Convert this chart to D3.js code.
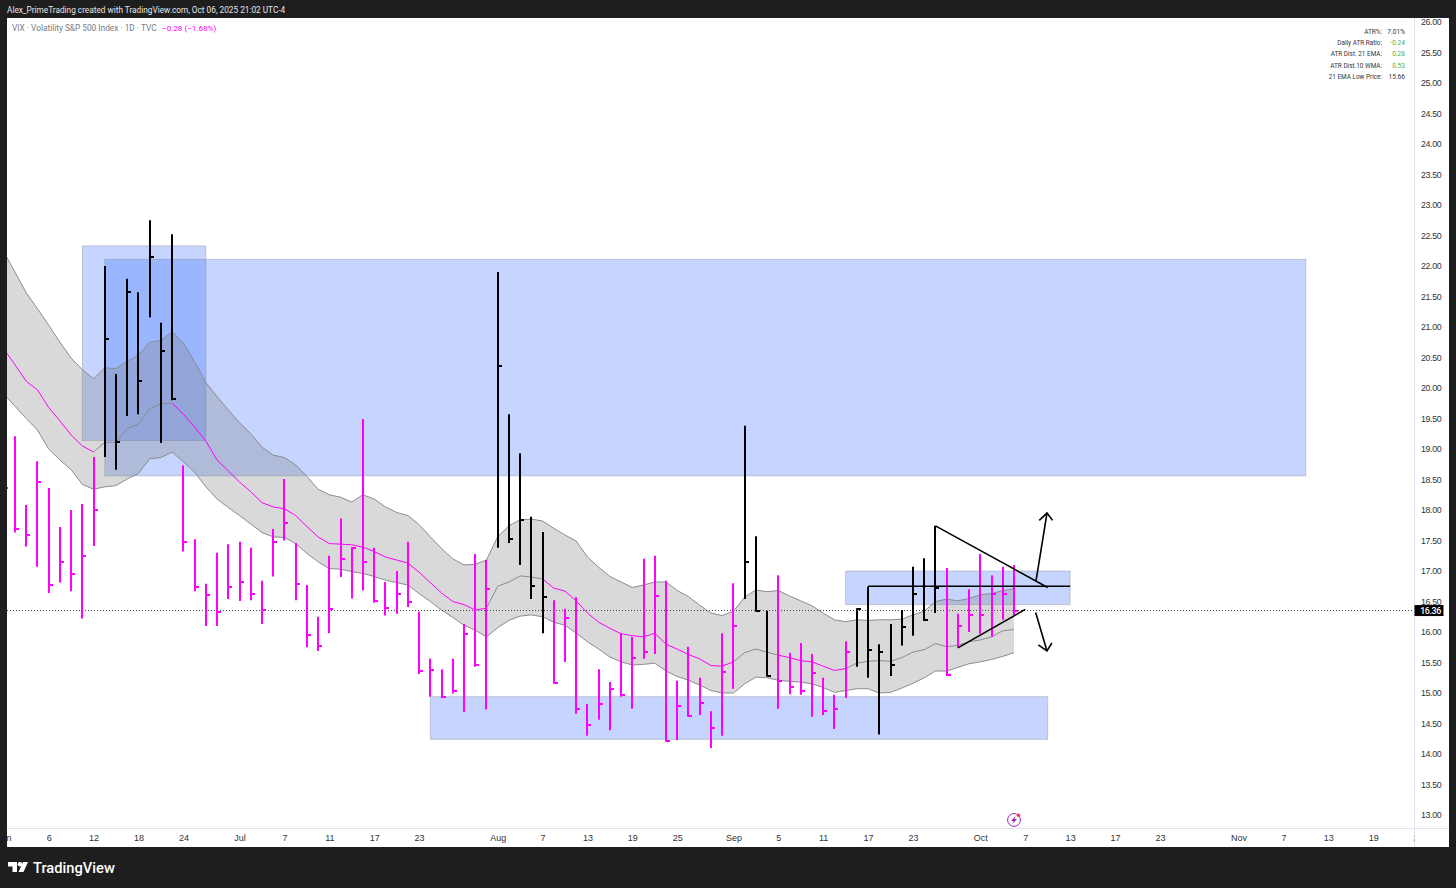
<!DOCTYPE html>
<html>
<head>
<meta charset="utf-8">
<script src="https://cdn.jsdelivr.net/npm/d3@7"></script>
<style>
  body { margin: 0; background: #1e1e1e; }
  svg { display: block; font-family: Roboto, "Liberation Sans", sans-serif; }
</style>
</head>
<body>
<div id="chart"></div>
<script>
// VIX daily bars, first one sits mostly off the left edge
const highs = [18.49,19.21,18.08,18.80,18.36,17.72,18.00,18.10,18.87,22.00,20.23,21.79,21.57,22.75,21.07,22.52,18.73,17.52,16.79,17.30,17.44,17.48,17.38,16.84,17.69,18.51,17.46,16.77,16.25,17.25,17.86,17.39,19.49,17.38,16.82,17.00,17.48,16.33,15.56,15.39,15.56,16.13,17.28,17.18,21.90,19.57,18.93,17.89,17.64,16.52,16.38,16.57,14.82,15.39,15.18,15.97,15.92,17.20,17.25,16.84,15.20,15.76,15.25,14.70,15.98,16.80,19.38,17.57,16.35,16.93,15.66,15.82,15.64,15.25,14.97,15.85,16.39,16.74,15.80,16.13,16.36,17.07,17.21,17.74,17.05,16.30,16.70,17.28,16.93,17.07,17.10];
const lows = [18.16,17.63,17.40,17.07,16.64,16.81,16.67,16.22,17.41,18.87,18.66,19.54,19.57,21.16,19.10,19.80,17.32,16.67,16.10,16.10,16.54,16.51,16.52,16.13,16.91,17.50,16.52,15.75,15.69,15.98,16.90,16.55,16.68,16.48,16.27,16.30,16.41,15.31,14.94,14.92,14.99,14.69,15.43,14.73,17.38,17.46,17.10,16.54,15.98,15.15,15.51,14.66,14.30,14.56,14.39,14.94,14.74,15.56,15.64,14.20,14.23,14.61,14.64,14.10,14.30,15.07,16.54,16.33,15.27,14.74,14.98,14.97,14.61,14.64,14.41,14.92,15.43,15.25,14.32,15.28,15.78,15.94,16.18,16.31,15.28,15.74,16.00,15.97,15.92,16.20,16.28];
const closes = [18.36,17.69,17.59,18.46,16.77,17.14,16.95,17.25,18.00,20.80,19.11,21.57,20.11,22.15,20.61,19.82,17.48,16.74,16.60,16.32,16.73,16.82,16.62,16.36,17.48,17.79,16.79,15.95,15.77,16.38,17.20,17.38,17.14,16.51,16.40,16.63,16.49,15.36,15.38,14.93,15.03,15.97,15.46,16.71,20.36,17.52,17.84,16.75,16.58,15.16,16.23,14.73,14.48,14.82,15.07,14.97,15.57,15.67,16.59,14.21,14.79,14.62,14.84,14.43,15.34,16.10,17.15,16.34,15.28,15.19,15.10,15.03,15.33,14.70,14.74,15.67,16.38,15.70,15.68,15.46,16.09,16.62,16.19,16.72,15.30,16.10,16.28,16.28,16.62,16.63,16.35];
// position ranges of the black (up) bars, the rest are magenta
const blackRuns = [[9,15],[44,48],[66,68],[76,83]];

// 21 EMA high / close / low channel
const emaHigh = [22.23,21.90,21.56,21.30,21.03,20.75,20.49,20.30,20.15,20.33,20.32,20.44,20.54,20.75,20.78,20.92,20.74,20.43,20.09,19.86,19.64,19.43,19.25,19.03,18.90,18.86,18.74,18.55,18.34,18.25,18.21,18.13,18.25,18.18,18.05,17.96,17.91,17.76,17.56,17.37,17.20,17.10,17.11,17.18,17.56,17.74,17.84,17.85,17.82,17.70,17.59,17.49,17.23,17.06,16.91,16.82,16.73,16.77,16.82,16.82,16.68,16.58,16.44,16.31,16.27,16.34,16.57,16.69,16.66,16.68,16.59,16.51,16.43,16.31,16.20,16.17,16.20,16.19,16.20,16.20,16.21,16.28,16.34,16.50,16.54,16.51,16.55,16.61,16.63,16.68,16.71];
const emaMid = [20.64,20.38,20.11,19.97,19.68,19.46,19.23,19.05,18.95,19.11,19.11,19.34,19.41,19.66,19.74,19.75,19.57,19.36,19.13,18.82,18.64,18.46,18.30,18.12,18.05,18.02,17.91,17.73,17.56,17.45,17.44,17.43,17.39,17.32,17.23,17.18,17.13,16.98,16.81,16.64,16.50,16.45,16.36,16.39,16.75,16.82,16.92,16.90,16.87,16.72,16.67,16.51,16.31,16.16,16.06,15.97,15.94,15.92,15.98,15.80,15.72,15.63,15.56,15.45,15.44,15.51,15.66,15.72,15.67,15.62,15.58,15.53,15.51,15.44,15.37,15.40,15.49,15.52,15.53,15.52,15.58,15.67,15.71,15.81,15.76,15.78,15.84,15.87,15.92,16.02,16.04];
const emaLow = [19.90,19.70,19.50,19.31,19.00,18.82,18.66,18.42,18.34,18.38,18.40,18.51,18.60,18.84,18.86,18.95,18.79,18.62,18.38,18.18,18.04,17.91,17.77,17.63,17.56,17.55,17.45,17.29,17.15,17.04,17.03,16.99,16.96,16.91,16.85,16.81,16.77,16.63,16.50,16.36,16.24,16.11,16.03,15.92,16.07,16.19,16.26,16.28,16.25,16.16,16.11,15.98,15.84,15.72,15.59,15.51,15.46,15.47,15.49,15.36,15.27,15.21,15.13,15.04,15.00,15.00,15.15,15.26,15.25,15.21,15.19,15.18,15.15,15.09,15.01,15.04,15.07,15.07,15.00,15.01,15.08,15.16,15.25,15.36,15.36,15.42,15.48,15.51,15.55,15.60,15.66];
// stretches where the middle line is grey instead of magenta
const midGrayRuns = [[9,15],[44,48],[66,69],[76,90]];

// drawn zones: [from, to, top price, bottom price]
const zones = [
  [7, 18, 22.33, 19.14],
  [9, 116, 22.11, 18.56],
  [38, 93, 14.94, 14.24],
  [75, 95, 17.00, 16.45]
];

// hand drawn lines, each a list of [position, price]
const drawnLines = [
  [[77, 16.75], [95, 16.75]],
  [[83, 17.74], [93, 16.73]],
  [[85, 15.74], [91, 16.37]],
  [[91.96, 16.84], [92.94, 17.95]],
  [[92.25, 17.83], [92.94, 17.95], [93.44, 17.83]],
  [[91.93, 16.32], [92.94, 15.69]],
  [[92.16, 15.79], [92.94, 15.69], [93.38, 15.82]]
];

const lastPrice = 16.36;
const priceTicks = d3.range(13, 26.5, 0.5);
const timeTickPos = [0,4,8,12,16,21,25,29,33,37,44,48,52,56,60,65,69,73,77,81,87,91,95,99,103,110,114,118,122,126];
const timeTickLabels = ['Jun','6','12','18','24','Jul','7','11','17','23','Aug','7','13','19','25','Sep','5','11','17','23','Oct','7','13','17','23','Nov','7','13','19','25'];
const boldLabels = ['Jul','Aug','Sep','Oct','Nov'];

const statLabels = ['ATR%:','Daily ATR Ratio:','ATR Dist. 21 EMA:','ATR Dist.10 WMA:','21 EMA Low Price:'];
const statValues = ['7.01%','-0.24','0.28','0.53','15.66'];
const statColors = ['#333','#4caf50','#4caf50','#4caf50','#333'];

const pink = '#ff00ff';
const lineGray = '#8c8c8c';
const width = 1456;
const height = 888;
const plot = { left: 7, right: 1414.5, top: 18, bottom: 828.5, panelRight: 1449, panelBottom: 847 };

const x = d3.scaleLinear().domain([0, 90]).range([3.8, 1014]);
const y = d3.scaleLinear().domain([13, 26]).range([815, 22]);

const svg = d3.select('#chart').append('svg')
  .attr('width', width)
  .attr('height', height);

svg.append('rect')
  .attr('x', plot.left).attr('y', plot.top)
  .attr('width', plot.panelRight - plot.left)
  .attr('height', plot.panelBottom - plot.top)
  .attr('fill', '#fff');

svg.append('clipPath').attr('id', 'plot-clip')
  .append('rect')
  .attr('x', plot.left).attr('y', plot.top)
  .attr('width', plot.right - plot.left)
  .attr('height', plot.panelBottom - plot.top);

const g = svg.append('g').attr('clip-path', 'url(#plot-clip)');

// zones
g.selectAll('rect.zone').data(zones).join('rect')
  .attr('class', 'zone')
  .attr('x', d => x(d[0]))
  .attr('y', d => y(d[2]))
  .attr('width', d => x(d[1]) - x(d[0]))
  .attr('height', d => y(d[3]) - y(d[2]))
  .attr('fill', 'rgba(41,98,255,0.27)')
  .attr('stroke', 'rgba(140,140,140,0.4)');

// ema channel
const positions = d3.range(emaMid.length);
const band = d3.area()
  .x(d => x(d))
  .y0(d => y(emaLow[d]))
  .y1(d => y(emaHigh[d]));

g.append('path').datum(positions)
  .attr('d', band)
  .attr('fill', 'rgba(128,128,128,0.3)');

const line = d3.line().x(d => x(d[0])).y(d => y(d[1]));

[emaHigh, emaLow].forEach(function (series) {
  g.append('path')
    .datum(series.map((v, i) => [i, v]))
    .attr('d', line)
    .attr('fill', 'none')
    .attr('stroke', lineGray);
});

function inRuns(runs, i) {
  return runs.some(r => i >= r[0] && i <= r[1]);
}
function barColor(i) {
  return inRuns(blackRuns, i) ? '#000' : pink;
}

positions.slice(1).forEach(function (i) {
  g.append('path')
    .datum([[i - 1, emaMid[i - 1]], [i, emaMid[i]]])
    .attr('d', line)
    .attr('fill', 'none')
    .attr('stroke', inRuns(midGrayRuns, i) ? lineGray : pink);
});

// last price line
g.append('line')
  .attr('x1', plot.left).attr('x2', plot.right)
  .attr('y1', y(lastPrice) + 0.5).attr('y2', y(lastPrice) + 0.5)
  .attr('stroke', '#444')
  .attr('stroke-dasharray', '1 2');

// bars, snapped to whole pixels so the stems stay solid
const bars = g.selectAll('g.bar').data(positions).join('g').attr('class', 'bar');

bars.append('line')
  .attr('x1', d => Math.round(x(d))).attr('x2', d => Math.round(x(d)))
  .attr('y1', d => y(highs[d])).attr('y2', d => y(lows[d]))
  .attr('stroke', barColor)
  .attr('stroke-width', 2);

bars.append('line')
  .attr('x1', d => Math.round(x(d))).attr('x2', d => Math.round(x(d)) + 4)
  .attr('y1', d => Math.round(y(closes[d]))).attr('y2', d => Math.round(y(closes[d])))
  .attr('stroke', barColor)
  .attr('stroke-width', 2);

// trend lines and arrows
g.selectAll('path.drawn').data(drawnLines).join('path')
  .attr('class', 'drawn')
  .attr('d', line)
  .attr('fill', 'none')
  .attr('stroke', '#000')
  .attr('stroke-width', 1.6);

// axes
svg.append('line')
  .attr('x1', plot.right).attr('x2', plot.right)
  .attr('y1', plot.top).attr('y2', plot.panelBottom)
  .attr('stroke', '#e0e3eb');
svg.append('line')
  .attr('x1', plot.left).attr('x2', plot.panelRight)
  .attr('y1', plot.bottom).attr('y2', plot.bottom)
  .attr('stroke', '#e0e3eb');

const yAxis = d3.axisRight(y)
  .tickValues(priceTicks)
  .tickFormat(d3.format('.2f'))
  .tickSize(0)
  .tickPadding(6.5);

svg.append('g')
  .attr('transform', 'translate(' + plot.right + ',0)')
  .call(yAxis)
  .call(s => s.select('.domain').remove())
  .call(s => s.selectAll('text')
    .attr('font-size', 8.8)
    .attr('letter-spacing', -0.35)
    .attr('font-family', 'inherit')
    .attr('fill', '#333'));

const xAxis = d3.axisBottom(x)
  .tickValues(timeTickPos)
  .tickFormat((d, i) => timeTickLabels[i])
  .tickSize(0)
  .tickPadding(6);

svg.append('g')
  .attr('clip-path', 'url(#plot-clip)')
  .append('g')
  .attr('transform', 'translate(0,' + plot.bottom + ')')
  .call(xAxis)
  .call(s => s.select('.domain').remove())
  .call(s => s.selectAll('text')
    .attr('font-size', 9)
    .attr('font-family', 'inherit')
    .attr('fill', '#333')
    .attr('font-weight', d => boldLabels.includes(timeTickLabels[timeTickPos.indexOf(d)]) ? 500 : 400));

// last price tag
svg.append('rect')
  .attr('x', plot.right).attr('y', y(lastPrice) - 5)
  .attr('width', 29).attr('height', 11)
  .attr('fill', '#000');
svg.append('text')
  .attr('x', plot.right + 16).attr('y', y(lastPrice) + 3.8)
  .attr('text-anchor', 'middle')
  .attr('font-size', 8.8).attr('font-weight', 500)
  .attr('letter-spacing', -0.35)
  .attr('fill', '#fff')
  .text(d3.format('.2f')(lastPrice));

// header
svg.append('text')
  .attr('x', 7).attr('y', 13)
  .attr('font-size', 8.25).attr('fill', '#e6e6e6')
  .text('Alex_PrimeTrading created with TradingView.com, Oct 06, 2025 21:02 UTC-4');
svg.append('text')
  .attr('x', 12).attr('y', 31)
  .attr('font-size', 8.3).attr('fill', '#787b86')
  .text('VIX · Volatility S&P 500 Index · 1D · TVC');
svg.append('text')
  .attr('x', 162).attr('y', 31)
  .attr('font-size', 8.1).attr('fill', pink)
  .text('−0.28 (−1.68%)');

// stats table
statLabels.forEach(function (label, i) {
  const rowY = 33.5 + i * 11.4;
  svg.append('text')
    .attr('x', 1382).attr('y', rowY)
    .attr('text-anchor', 'end')
    .attr('font-size', 6.4).attr('fill', '#333')
    .text(label);
  svg.append('text')
    .attr('x', 1405).attr('y', rowY)
    .attr('text-anchor', 'end')
    .attr('font-size', 6.6).attr('fill', statColors[i])
    .text(statValues[i]);
});

// flash marker under the last bars
const marker = svg.append('g').attr('transform', 'translate(1014,820)');
marker.append('circle')
  .attr('r', 6.4)
  .attr('fill', '#fff')
  .attr('stroke', '#9c27b0')
  .attr('stroke-width', 1);
marker.append('path')
  .attr('d', 'M1.8,-4.2 L-3,1 L-0.4,1 L-1.8,4.2 L3,-1 L0.4,-1 Z')
  .attr('fill', '#9c27b0');
marker.append('circle')
  .attr('cx', 4.4).attr('cy', -4.7).attr('r', 1.7)
  .attr('fill', '#f23645');

// footer logo
const logo = svg.append('g').attr('transform', 'translate(8,862)').attr('fill', '#fff');
logo.append('path').attr('d', 'M0,0 H9 V10 H4.5 V4.5 H0 Z');
logo.append('circle').attr('cx', 12).attr('cy', 2.3).attr('r', 2.3);
logo.append('path').attr('d', 'M15,0 H20 L15.5,10 H10.5 Z');
svg.append('text')
  .attr('x', 33).attr('y', 873)
  .attr('font-size', 14.7).attr('font-weight', 500)
  .attr('fill', '#fff')
  .text('TradingView');
</script>
</body>
</html>
